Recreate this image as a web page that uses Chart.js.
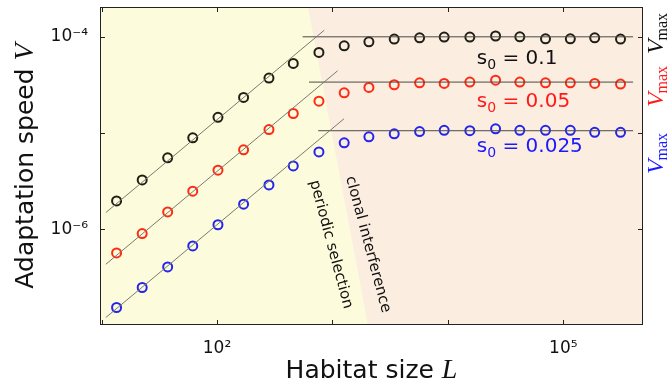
<!DOCTYPE html>
<html>
<head>
<meta charset="utf-8">
<script src="https://cdn.jsdelivr.net/npm/chart.js@4"></script>
<style>
  html, body { margin: 0; padding: 0; background: #fff; }
  canvas { display: block; }
</style>
</head>
<body>
<canvas id="speedChart" width="669" height="388"></canvas>
<script>
// habitat sizes L of the simulations
const habitatL = [13.5, 22.5, 37.4, 61.7, 102, 170, 282, 458, 764, 1265, 2070, 3430,
                  5690, 9290, 15500, 25900, 42000, 70100, 115000, 187000, 313000];
// measured adaptation speed V for the three s0
const speedS01   = [1.98e-6, 3.27e-6, 5.54e-6, 8.94e-6, 1.46e-5, 2.35e-5, 3.73e-5, 5.30e-5, 6.89e-5,
                    8.07e-5, 8.87e-5, 9.47e-5, 9.77e-5, 9.93e-5, 9.93e-5, 1.02e-4, 1.0e-4, 9.53e-5,
                    9.53e-5, 9.77e-5, 9.47e-5];
const speedS005  = [5.71e-7, 9.08e-7, 1.52e-6, 2.50e-6, 4.13e-6, 6.71e-6, 1.09e-5, 1.60e-5, 2.15e-5,
                    2.62e-5, 2.98e-5, 3.18e-5, 3.33e-5, 3.28e-5, 3.39e-5, 3.55e-5, 3.39e-5, 3.33e-5,
                    3.33e-5, 3.28e-5, 3.23e-5];
const speedS0025 = [1.55e-7, 2.50e-7, 4.09e-7, 6.76e-7, 1.12e-6, 1.83e-6, 2.90e-6, 4.57e-6, 6.39e-6,
                    7.93e-6, 9.16e-6, 9.84e-6, 1.04e-5, 1.07e-5, 1.06e-5, 1.11e-5, 1.07e-5, 1.07e-5,
                    1.07e-5, 1.02e-5, 1.02e-5];
// periodic selection fits (V ~ L), two end points each
const fitL01   = [10.9, 849];   const fitV01   = [1.50e-6, 1.17e-4];
const fitL005  = [10.9, 1109];  const fitV005  = [4.36e-7, 4.44e-5];
const fitL0025 = [10.9, 1259];  const fitV0025 = [1.22e-7, 1.41e-5];
// Vmax levels
const vmaxL01   = [552, 402000];  const vmax01   = 1.0e-4;
const vmaxL005  = [627, 402000];  const vmax005  = 3.39e-5;
const vmaxL0025 = [753, 402000];  const vmax0025 = 1.06e-5;
// regime boundary (top, bottom)
const boundaryL = [614, 2030];
// axis ranges and labelled decades
const xRange = [9.7, 4.9e5];
const yRange = [1.02e-7, 2.04e-4];
const xLabelled = {2: '10²', 5: '10⁵'};
const yLabelled = {'-4': '10⁻⁴', '-6': '10⁻⁶'};
// annotation text positions in data units
const s0Labels = [
  {s: '0.1',   L: 17800, V: 5.2e-5,  color: '#111111'},
  {s: '0.05',  L: 17800, V: 1.86e-5, color: '#ff1a1a'},
  {s: '0.025', L: 17800, V: 6.35e-6, color: '#1a1aff'}
];
const regimeLabels = [
  {txt: 'periodic selection',  L: 970,  V: 7.0e-7},
  {txt: 'clonal interference', L: 2030, V: 7.0e-7}
];

const blackC = '#201f15', redC = '#ff2a14', blueC = '#2424ee';

function pts(xs, ys) { return xs.map((x, i) => ({x: x, y: ys[i]})); }
function decades(lo, hi) {
  let out = [];
  for (let e = Math.ceil(Math.log10(lo)); e <= Math.floor(Math.log10(hi)); e++) out.push(Math.pow(10, e));
  return out;
}

const lineSet = (data, color) => ({data: data, showLine: true, borderColor: color, borderWidth: 1,
                                   pointRadius: 0, fill: false});
const dotSet = (data, color) => ({data: data, showLine: false, borderColor: color, backgroundColor: 'rgba(0,0,0,0)',
                                  pointRadius: 4.5, pointBorderWidth: 2, pointHoverRadius: 4.5});

const decorPlugin = {
  id: 'decor',
  beforeDatasetsDraw(chart) {
    const ctx = chart.ctx, a = chart.chartArea, xs = chart.scales.x;
    ctx.save();
    ctx.fillStyle = '#fcede1';
    ctx.fillRect(a.left, a.top, a.right - a.left, a.bottom - a.top);
    const xt = xs.getPixelForValue(boundaryL[0]), xb = xs.getPixelForValue(boundaryL[1]);
    ctx.fillStyle = '#fcfbdc';
    ctx.beginPath();
    ctx.moveTo(a.left, a.top); ctx.lineTo(xt, a.top); ctx.lineTo(xb, a.bottom); ctx.lineTo(a.left, a.bottom);
    ctx.closePath(); ctx.fill();
    ctx.restore();
  },
  afterDraw(chart) {
    const ctx = chart.ctx, a = chart.chartArea, xs = chart.scales.x, ys = chart.scales.y;
    ctx.save();
    // frame and inward ticks
    ctx.strokeStyle = '#222'; ctx.lineWidth = 1;
    ctx.strokeRect(a.left + 0.5, a.top + 0.5, a.right - a.left - 1, a.bottom - a.top - 1);
    ctx.beginPath();
    decades(xRange[0], xRange[1]).forEach(v => {
      const px = Math.round(xs.getPixelForValue(v)) + 0.5;
      ctx.moveTo(px, a.top); ctx.lineTo(px, a.top + 5);
      ctx.moveTo(px, a.bottom); ctx.lineTo(px, a.bottom - 5);
    });
    decades(yRange[0], yRange[1]).forEach(v => {
      const py = Math.round(ys.getPixelForValue(v)) + 0.5;
      ctx.moveTo(a.left, py); ctx.lineTo(a.left + 5, py);
      ctx.moveTo(a.right, py); ctx.lineTo(a.right - 5, py);
    });
    ctx.stroke();

    // s0 labels
    s0Labels.forEach(lb => {
      let x = xs.getPixelForValue(lb.L), y = ys.getPixelForValue(lb.V);
      ctx.fillStyle = lb.color; ctx.textBaseline = 'alphabetic'; ctx.textAlign = 'left';
      ctx.font = '20px "DejaVu Sans"';
      ctx.fillText('s', x, y); x += ctx.measureText('s').width;
      ctx.font = '14px "DejaVu Sans"';
      ctx.fillText('0', x, y + 5); x += ctx.measureText('0').width;
      ctx.font = '20px "DejaVu Sans"';
      ctx.fillText(' = ' + lb.s, x, y);
    });

    // regime labels
    regimeLabels.forEach(r => {
      ctx.save();
      ctx.translate(xs.getPixelForValue(r.L), ys.getPixelForValue(r.V));
      ctx.rotate(75 * Math.PI / 180);
      ctx.font = '15px "DejaVu Sans"'; ctx.fillStyle = '#111';
      ctx.textAlign = 'center'; ctx.textBaseline = 'middle';
      ctx.fillText(r.txt, 0, 0);
      ctx.restore();
    });

    // Vmax labels on the right
    const vmaxLabel = (cy, color) => {
      ctx.save();
      ctx.translate(chart.width - 6, cy);
      ctx.rotate(-Math.PI / 2);
      ctx.fillStyle = color; ctx.textBaseline = 'alphabetic'; ctx.textAlign = 'left';
      ctx.font = 'italic 24px "Liberation Serif"';
      const w1 = ctx.measureText('V').width;
      ctx.font = '16px "Liberation Serif"';
      const w2 = ctx.measureText('max').width;
      const x0 = -(w1 + w2) / 2;
      ctx.font = 'italic 24px "Liberation Serif"';
      ctx.fillText('V', x0, 0);
      ctx.font = '16px "Liberation Serif"';
      ctx.fillText('max', x0 + w1 - 1, 4);
      ctx.restore();
    };
    vmaxLabel(33, '#111111');
    vmaxLabel(86, '#ff1a1a');
    vmaxLabel(153, '#1a1aff');

    // axis titles
    ctx.fillStyle = '#111';
    ctx.font = '25px "DejaVu Sans"';
    const t1 = 'Habitat size ';
    const w1 = ctx.measureText(t1).width;
    ctx.font = 'italic 28px "Liberation Serif"';
    const wL = ctx.measureText('L').width;
    let x0 = (a.left + a.right) / 2 - (w1 + wL) / 2;
    ctx.font = '25px "DejaVu Sans"'; ctx.textAlign = 'left'; ctx.textBaseline = 'alphabetic';
    ctx.fillText(t1, x0, 378);
    ctx.font = 'italic 28px "Liberation Serif"';
    ctx.fillText('L', x0 + w1, 378);

    ctx.save();
    ctx.translate(33, (a.top + a.bottom) / 2);
    ctx.rotate(-Math.PI / 2);
    ctx.font = '25px "DejaVu Sans"';
    const t2 = 'Adaptation speed ';
    const w2 = ctx.measureText(t2).width;
    ctx.font = 'italic 28px "Liberation Serif"';
    const wV = ctx.measureText('V').width;
    x0 = -(w2 + wV) / 2;
    ctx.font = '25px "DejaVu Sans"';
    ctx.fillText(t2, x0, 0);
    ctx.font = 'italic 28px "Liberation Serif"';
    ctx.fillText('V', x0 + w2, 0);
    ctx.restore();

    ctx.restore();
  }
};

new Chart(document.getElementById('speedChart'), {
  type: 'scatter',
  data: {
    datasets: [
      lineSet(pts(fitL01, fitV01), '#7a7a72'),
      lineSet(pts(fitL005, fitV005), '#7a7a72'),
      lineSet(pts(fitL0025, fitV0025), '#7a7a72'),
      lineSet(pts(vmaxL01, [vmax01, vmax01]), '#4a4a44'),
      lineSet(pts(vmaxL005, [vmax005, vmax005]), '#4a4a44'),
      lineSet(pts(vmaxL0025, [vmax0025, vmax0025]), '#4a4a44'),
      dotSet(pts(habitatL, speedS01), blackC),
      dotSet(pts(habitatL, speedS005), redC),
      dotSet(pts(habitatL, speedS0025), blueC)
    ]
  },
  options: {
    responsive: false,
    animation: false,
    events: [],
    layout: {padding: {left: 0, top: 7, right: 26, bottom: 0}},
    plugins: {legend: {display: false}, tooltip: {enabled: false}},
    scales: {
      x: {
        type: 'logarithmic', min: xRange[0], max: xRange[1],
        grid: {display: false, drawTicks: false},
        border: {display: false},
        afterBuildTicks: s => { s.ticks = decades(xRange[0], xRange[1]).map(v => ({value: v})); },
        afterFit: s => { s.height = 63; s.paddingLeft = 0; s.paddingRight = 0; },
        ticks: {
          autoSkip: false, maxRotation: 0, padding: 13, color: '#111',
          font: {family: 'DejaVu Sans', size: 17},
          callback: v => xLabelled[Math.round(Math.log10(v))] || ''
        }
      },
      y: {
        type: 'logarithmic', min: yRange[0], max: yRange[1],
        grid: {display: false, drawTicks: false},
        border: {display: false},
        afterBuildTicks: s => { s.ticks = decades(yRange[0], yRange[1]).map(v => ({value: v})); },
        afterFit: s => { s.width = 100; s.paddingTop = 0; s.paddingBottom = 0; },
        ticks: {
          autoSkip: false, padding: 12, color: '#111',
          font: {family: 'DejaVu Sans', size: 17},
          callback: v => yLabelled[Math.round(Math.log10(v))] || ''
        }
      }
    }
  },
  plugins: [decorPlugin]
});
</script>
</body>
</html>
